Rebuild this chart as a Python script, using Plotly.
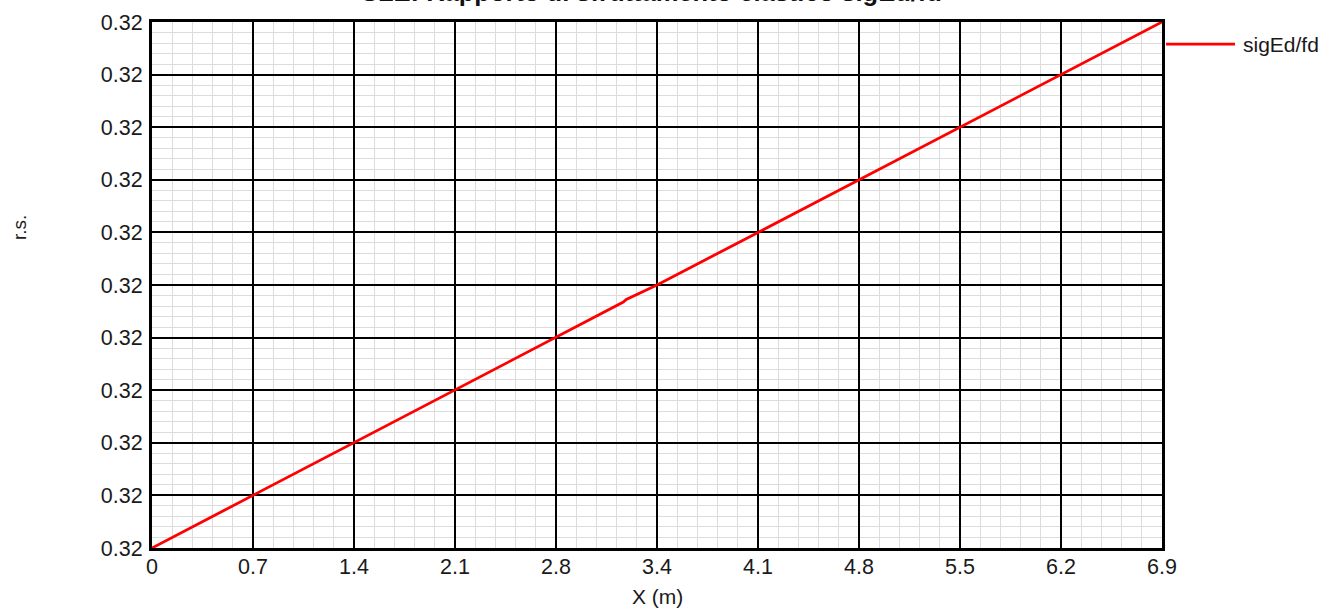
import plotly.graph_objects as go

# Data
x_vals = [0.0, 0.69, 1.38, 2.07, 2.76, 3.22, 3.24, 3.45, 4.14, 4.83, 5.52, 6.21, 6.9]
y_vals = [0.31960, 0.31968, 0.31976, 0.31984, 0.31992, 0.319974, 0.319978, 0.32000,
          0.32008, 0.32016, 0.32024, 0.32032, 0.32040]
x_tickvals = [0.0, 0.69, 1.38, 2.07, 2.76, 3.45, 4.14, 4.83, 5.52, 6.21, 6.9]
x_ticktext = ["0", "0.7", "1.4", "2.1", "2.8", "3.4", "4.1", "4.8", "5.5", "6.2", "6.9"]
series_name = "sigEd/fd"
title_text = "SLE: Rapporto di sfruttamento elastico sigEd/fd"

FONT = "Liberation Sans, Arial, sans-serif"
TXT = "#1a1a1a"

fig = go.Figure()
fig.add_trace(go.Scatter(x=x_vals, y=y_vals, mode="lines", name=series_name,
                         line=dict(color="#ff0000", width=2.8), showlegend=False))

fig.update_layout(
    width=1324, height=608,
    margin=dict(l=152, r=162, t=22, b=60, autoexpand=False),
    paper_bgcolor="white", plot_bgcolor="white",
    font=dict(family=FONT, size=21.5, color=TXT),
    showlegend=False,
)

fig.update_xaxes(
    range=[0, 6.9], tickmode="array", tickvals=x_tickvals, ticktext=x_ticktext,
    automargin=False,
    showgrid=True, gridcolor="black", gridwidth=2,
    showline=True, linecolor="black", linewidth=3, mirror=True,
    zeroline=False, ticks="", ticklabelstandoff=-3,
    tickfont=dict(size=21.5, family=FONT, color=TXT),
    minor=dict(tickmode="linear", tick0=0, dtick=0.138, showgrid=True,
               gridcolor="#dcdcdc", gridwidth=1),
)
fig.update_yaxes(
    range=[0.3196, 0.3204], tickmode="linear", tick0=0.3196, dtick=0.00008,
    tickformat=".2f", automargin=False,
    showgrid=True, gridcolor="black", gridwidth=2,
    showline=True, linecolor="black", linewidth=3, mirror=True,
    zeroline=False, ticks="", ticklabelstandoff=2,
    tickfont=dict(size=21.5, family=FONT, color=TXT),
    minor=dict(tickmode="linear", tick0=0.3196, dtick=0.000016, showgrid=True,
               gridcolor="#dcdcdc", gridwidth=1),
)

# x-axis title
fig.add_annotation(text="X (m)", xref="paper", yref="paper", x=0.5, y=-0.093,
                   showarrow=False, xanchor="center", yanchor="middle",
                   font=dict(size=21, family=FONT, color=TXT))
# y-axis title
fig.add_annotation(text="r.s.", xref="paper", yref="paper", x=-0.1317, y=0.61,
                   textangle=-90, showarrow=False, font=dict(size=19, family=FONT, color=TXT),
                   xanchor="center", yanchor="middle")
# title
fig.add_annotation(text="<b>" + title_text + "</b>", xref="paper", yref="paper",
                   x=0.495, y=1.026, showarrow=False, xanchor="center", yanchor="bottom",
                   font=dict(size=25.5, family=FONT, color="#111111"))
# legend
fig.add_shape(type="line", xref="paper", yref="paper", x0=1.004, x1=1.0723, y0=0.958, y1=0.958,
              line=dict(color="#ff0000", width=2.8))
fig.add_annotation(text=series_name, xref="paper", yref="paper", x=1.078, y=0.958,
                   showarrow=False, xanchor="left", yanchor="middle",
                   font=dict(size=21, family=FONT, color=TXT))

fig.write_html("out.html", config={"displayModeBar": False},
               post_script="document.body.style.margin='0';document.body.style.overflow='hidden';")
